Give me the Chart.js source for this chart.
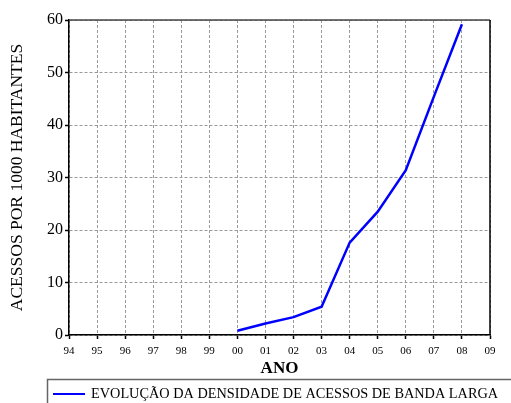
<!DOCTYPE html>
<html>
<head>
<meta charset="utf-8">
<script src="https://cdn.jsdelivr.net/npm/chart.js@4/dist/chart.umd.min.js"></script>
<style>
html,body{margin:0;padding:0;background:#fff;}
#wrap{width:511px;height:403px;position:relative;}
</style>
</head>
<body>
<div id="wrap"><canvas id="c" width="511" height="403"></canvas></div>
<script>
const years = ['94','95','96','97','98','99','00','01','02','03','04','05','06','07','08','09'];
const densidade = [null,null,null,null,null,null,0.8,2.2,3.4,5.4,17.6,23.5,31.4,45.4,59.2,null];
const yTicks = [0,10,20,30,40,50,60];
const seriesLabel = 'EVOLUÇÃO DA DENSIDADE DE ACESSOS DE BANDA LARGA';
const xTitle = 'ANO';
const yTitle = 'ACESSOS POR 1000 HABITANTES';

const SERIF = '"Liberation Serif", "Times New Roman", serif';

const frameAndLegend = {
  id: 'frameAndLegend',
  afterDatasetsDraw(chart) {
    const {ctx, chartArea: a} = chart;
    ctx.save();
    ctx.setLineDash([]);
    ctx.strokeStyle = '#444';
    ctx.lineWidth = 1.5;
    ctx.beginPath();
    ctx.moveTo(a.left, a.top);
    ctx.lineTo(a.right, a.top);
    ctx.stroke();
    ctx.strokeStyle = '#000';
    ctx.beginPath();
    ctx.moveTo(a.right, a.top);
    ctx.lineTo(a.right, a.bottom);
    ctx.stroke();
    ctx.restore();
  },
  afterDraw(chart) {
    const ctx = chart.ctx;
    ctx.save();
    ctx.setLineDash([]);
    ctx.strokeStyle = '#666';
    ctx.lineWidth = 1.5;
    ctx.strokeRect(47.5, 379.5, 480, 40);
    const ds = chart.data.datasets[0];
    ctx.strokeStyle = ds.borderColor;
    ctx.lineWidth = 2;
    ctx.beginPath();
    ctx.moveTo(53, 394);
    ctx.lineTo(85, 394);
    ctx.stroke();
    ctx.fillStyle = '#000';
    ctx.font = '14.3px ' + SERIF;
    ctx.textBaseline = 'middle';
    ctx.fillText(ds.label, 91, 394.5);
    ctx.restore();
  }
};

const gridOpts = {
  color: '#9a9a9a',
  lineWidth: 1,
  drawTicks: true,
  tickLength: 4,
  tickColor: '#000',
  tickBorderDash: [],
  tickWidth: 1.5
};

new Chart(document.getElementById('c'), {
  type: 'line',
  data: {
    labels: years,
    datasets: [{
      label: seriesLabel,
      data: densidade,
      borderColor: '#0000ff',
      backgroundColor: '#0000ff',
      borderWidth: 2.5,
      pointRadius: 0,
      tension: 0,
      spanGaps: false
    }]
  },
  options: {
    responsive: false,
    animation: false,
    devicePixelRatio: 1,
    layout: {padding: {top: 20, right: 21, left: 0, bottom: 24}},
    plugins: {legend: {display: false}, tooltip: {enabled: false}},
    scales: {
      x: {
        type: 'category',
        offset: false,
        grid: gridOpts,
        border: {display: true, color: '#000', width: 1.5, dash: [3, 2]},
        ticks: {
          color: '#000',
          font: {family: SERIF, size: 11},
          padding: 6,
          maxRotation: 0,
          autoSkip: false
        },
        title: {
          display: true,
          text: xTitle,
          color: '#000',
          font: {family: SERIF, size: 17, weight: 'bold'},
          padding: {top: 0, bottom: 0}
        },
        afterFit(scale) { scale.height = 44; }
      },
      y: {
        type: 'linear',
        min: 0,
        max: 60,
        afterBuildTicks(scale) { scale.ticks = yTicks.map(v => ({value: v})); },
        grid: gridOpts,
        border: {display: true, color: '#000', width: 1.5, dash: [3, 2]},
        ticks: {
          color: '#000',
          font: {family: SERIF, size: 16},
          padding: 2
        },
        title: {
          display: true,
          text: yTitle,
          color: '#000',
          font: {family: SERIF, size: 17.5},
          padding: {top: 7, bottom: 0}
        },
        afterFit(scale) { scale.width = 69; }
      }
    }
  },
  plugins: [frameAndLegend]
});
</script>
</body>
</html>
